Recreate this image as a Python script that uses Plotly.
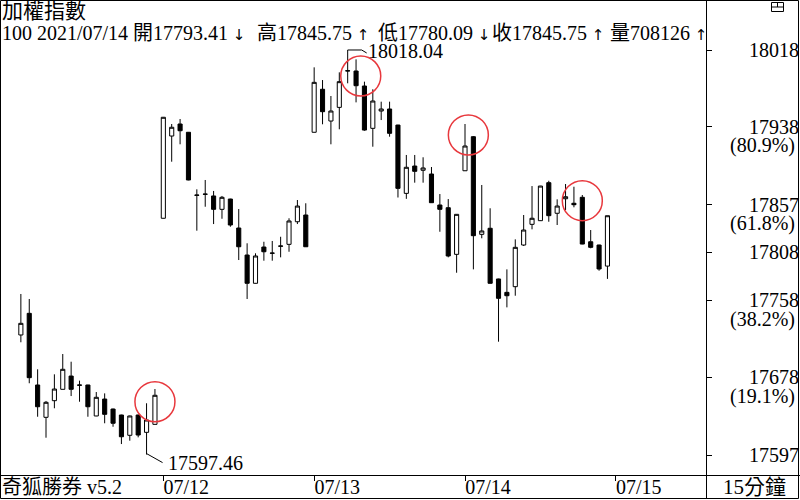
import plotly.graph_objects as go

# ---------------- data (15-min bars) ----------------
days = ["07/09"] * 17 + ["07/12"] * 18 + ["07/13"] * 18 + ["07/14"] * 18
opens = [17721.8, 17744.3, 17669.8, 17636.2, 17653.5, 17665.3, 17679.1, 17669.8, 17669.8,
         17637.6, 17655.2, 17644.8, 17638.6, 17617.5, 17638.6, 17620.6, 17628.9,
         17843.1, 17928.6, 17941.1, 17932.5, 17867.3, 17868.0, 17866.3, 17852.4, 17863.1,
         17833.0, 17804.9, 17775.5, 17813.2, 17806.7, 17814.3, 17816.0, 17839.5, 17846.5,
         17932.5, 17977.2, 17944.2, 17958.4, 17996.5, 17996.2, 17980.6, 17936.6, 17954.6,
         17956.7, 17940.0, 17869.0, 17897.4, 17893.0, 17889.1, 17856.9, 17854.1, 17805.6,
         17892.5, 17927.9, 17826.4, 17832.7, 17780.0, 17766.1, 17772.0, 17815.3, 17836.8,
         17840.6, 17880.1, 17848.3, 17863.4, 17858.7, 17864.9, 17818.7, 17815.3, 17793.41]
highs = [17764.4, 17759.2, 17686.1, 17653.2, 17680.9, 17702.0, 17694.0, 17674.3, 17670.0,
         17662.5, 17661.1, 17645.3, 17638.9, 17638.0, 17638.9, 17650.8, 17665.6,
         17948.4, 17941.1, 17946.3, 17932.8, 17873.2, 17882.9, 17871.5, 17866.3, 17863.4,
         17852.7, 17817.1, 17806.7, 17818.7, 17819.5, 17823.9, 17843.1, 17862.1, 17858.7,
         18000.0, 17986.8, 17970.2, 17994.8, 18018.04, 18008.3, 17985.1, 17977.2, 17964.3,
         17964.3, 17940.3, 17908.9, 17908.9, 17906.5, 17896.4, 17868.3, 17863.1, 17847.5,
         17941.1, 17928.6, 17877.7, 17853.5, 17780.3, 17790.0, 17821.2, 17846.5, 17876.6,
         17876.8, 17882.1, 17862.8, 17878.7, 17875.9, 17867.3, 17830.9, 17815.6, 17845.75]
lows = [17714.2, 17671.6, 17636.8, 17615.0, 17645.6, 17665.3, 17658.3, 17652.4, 17636.8,
        17637.4, 17630.0, 17626.4, 17608.4, 17611.9, 17615.4, 17597.46, 17628.6,
        17842.9, 17901.9, 17920.0, 17882.6, 17830.2, 17855.1, 17837.1, 17842.6, 17834.3,
        17799.7, 17759.2, 17775.3, 17799.0, 17799.0, 17802.5, 17808.3, 17837.1, 17813.3,
        17932.3, 17940.8, 17920.0, 17935.6, 17983.4, 17963.6, 17934.1, 17917.5, 17945.2,
        17927.9, 17864.7, 17863.3, 17880.1, 17880.1, 17859.1, 17829.1, 17802.5, 17786.5,
        17892.3, 17790.0, 17822.3, 17775.3, 17714.8, 17750.5, 17762.6, 17814.3, 17831.6,
        17840.4, 17839.5, 17836.1, 17851.7, 17854.5, 17816.1, 17811.9, 17788.6, 17780.09]
closes = [17733.9, 17677.4, 17647.2, 17651.8, 17665.6, 17686.1, 17665.3, 17669.6, 17647.2,
          17657.0, 17639.3, 17630.0, 17616.0, 17637.6, 17617.8, 17633.4, 17659.1,
          17948.1, 17937.7, 17934.1, 17882.9, 17867.0, 17868.2, 17852.4, 17864.9, 17836.1,
          17813.5, 17775.5, 17803.9, 17808.3, 17806.9, 17814.1, 17840.3, 17855.8, 17813.5,
          17984.4, 17953.9, 17954.6, 17985.1, 17996.3, 17980.9, 17934.8, 17965.0, 17956.7,
          17931.4, 17874.2, 17896.1, 17891.9, 17895.4, 17859.3, 17852.4, 17803.9, 17847.2,
          17918.2, 17825.0, 17829.9, 17775.5, 17759.9, 17762.6, 17812.9, 17830.9, 17843.1,
          17876.6, 17845.8, 17855.8, 17865.5, 17857.2, 17816.3, 17812.9, 17790.4, 17845.75]
volume_last = 708126
last_date = "2021/07/14"
bar_count_label = "100"
arrows = ["↓", "↑", "↓", "↑", "↑"]

day_labels = ["07/12", "07/13", "07/14", "07/15"]
y_ticks = [18018, 17938, 17857, 17808, 17758, 17678, 17597]
y_pct = {17938: "(80.9%)", 17857: "(61.8%)", 17758: "(38.2%)", 17678: "(19.1%)"}

# highlighted bars (bar index, price at circle centre)
circle_idx = [16.0, 40.56, 53.4, 67.0]
circle_price = [17652.4, 17991.0, 17929.7, 17861.4]

# ---------------- layout helpers ----------------
W, H = 800, 500
ML, MR, MT, MB = 0, 94, 0, 25
PW, PH = W - ML - MR, H - MT - MB


def px(X):
    return (X - ML) / PW


def py(Y):
    return (MT + PH - Y) / PH


FONT = "Liberation Serif, Noto Sans CJK TC, serif"
RED = "#e8383d"

x = list(range(len(opens)))
first_idx = {}
for i, d in enumerate(days):
    first_idx.setdefault(d, i)
tickvals = [first_idx[d] for d in day_labels if d in first_idx] + [len(days)]

fig = go.Figure()
fig.add_trace(go.Candlestick(
    x=x, open=opens, high=highs, low=lows, close=closes,
    increasing=dict(line=dict(color="black", width=1), fillcolor="white"),
    decreasing=dict(line=dict(color="black", width=1), fillcolor="black"),
    whiskerwidth=0, hoverinfo="skip", showlegend=False,
))

x0 = first_idx["07/12"]
fig.update_layout(
    width=W, height=H,
    margin=dict(l=ML, r=MR, t=MT, b=MB, pad=0),
    paper_bgcolor="white", plot_bgcolor="white",
    font=dict(family=FONT, size=20, color="black"),
    showlegend=False,
    xaxis=dict(
        type="linear", range=[x0 - 19.49, x0 + 64.76],
        tickvals=tickvals, ticktext=day_labels,
        ticks="outside", ticklen=5, tickcolor="black", tickwidth=1,
        showgrid=False, zeroline=False, showline=False,
        rangeslider=dict(visible=False),
        ticklabelshift=23, ticklabelstandoff=-11, tickfont=dict(size=20),
        automargin=False, fixedrange=True,
    ),
    yaxis=dict(
        side="right", range=[17576.24, 18070.0],
        tickvals=y_ticks, ticktext=[str(v) for v in y_ticks],
        ticks="outside", ticklen=5, tickcolor="black", tickwidth=1,
        ticklabelstandoff=33, tickfont=dict(size=20),
        showgrid=False, zeroline=False, showline=False,
        automargin=False, fixedrange=True,
    ),
)

# frame and strip separators
line_k = dict(color="black", width=1)
fig.add_shape(type="rect", xref="paper", yref="paper",
              x0=px(0.5), x1=px(798.5), y0=py(0.5), y1=py(498.5), line=line_k)
fig.add_shape(type="line", xref="paper", yref="paper",
              x0=px(0), x1=px(800), y0=py(475.5), y1=py(475.5), line=line_k)
fig.add_shape(type="line", xref="paper", yref="paper",
              x0=px(706.5), x1=px(706.5), y0=py(0), y1=py(499), line=line_k)
# small window icon at top right
fig.add_shape(type="rect", xref="paper", yref="paper",
              x0=px(771.5), x1=px(783.5), y0=py(2.5), y1=py(11.5), line=line_k)
fig.add_shape(type="line", xref="paper", yref="paper",
              x0=px(771.5), x1=px(783.5), y0=py(7), y1=py(7), line=line_k)
fig.add_shape(type="line", xref="paper", yref="paper",
              x0=px(777.5), x1=px(777.5), y0=py(2.5), y1=py(7), line=line_k)

# red circles
for cx, cy in zip(circle_idx, circle_price):
    fig.add_shape(type="circle", xref="x", yref="y",
                  xsizemode="pixel", ysizemode="pixel", xanchor=cx, yanchor=cy,
                  x0=-20, x1=20, y0=-20, y1=20,
                  line=dict(color=RED, width=1.5))

# max / min labels with leader lines
hi = max(highs)
lo = min(lows)
i_hi = highs.index(hi)
i_lo = lows.index(lo)
for (ax_, ay_, bx_, by_) in [(0, 0, 14, 0), (14, 0, 19, -3)]:
    fig.add_shape(type="line", xref="x", yref="y", xsizemode="pixel", ysizemode="pixel",
                  xanchor=i_hi, yanchor=hi, x0=ax_, y0=ay_, x1=bx_, y1=by_, line=line_k)
fig.add_shape(type="line", xref="x", yref="y", xsizemode="pixel", ysizemode="pixel",
              xanchor=i_lo, yanchor=lo, x0=0, y0=1, x1=16, y1=-8, line=line_k)
fig.add_annotation(x=i_hi, y=hi, xref="x", yref="y", text=f"{hi:.2f}", showarrow=False,
                   xanchor="left", yanchor="middle", xshift=18, yshift=-1,
                   font=dict(size=20))
fig.add_annotation(x=i_lo, y=lo, xref="x", yref="y", text=f"{lo:.2f}", showarrow=False,
                   xanchor="left", yanchor="middle", xshift=19, yshift=-8,
                   font=dict(size=20))

# percentage labels under the fib ticks
for v, t in y_pct.items():
    fig.add_annotation(x=px(797), y=v, xref="paper", yref="y", text=t, showarrow=False,
                       xanchor="right", yanchor="middle", yshift=-19, font=dict(size=20))


# header texts
def ptext(X, Y, t, size=20, anchor="left"):
    fig.add_annotation(x=px(X), y=py(Y), xref="paper", yref="paper", text=t,
                       showarrow=False, xanchor=anchor, yanchor="middle",
                       font=dict(size=size), borderpad=0)


def arrow_span(a):
    return f"<span style='font-family:DejaVu Sans;font-size:15px'> {a}</span>"


ptext(1, 11, "加權指數", 21)
segs = [
    (1, f"{bar_count_label} {last_date}"),
    (132, f"開{opens[-1]:.2f}" + arrow_span(arrows[0])),
    (256, f"高{highs[-1]:.2f}" + arrow_span(arrows[1])),
    (377, f"低{lows[-1]:.2f}" + arrow_span(arrows[2])),
    (491, f"收{closes[-1]:.2f}" + arrow_span(arrows[3])),
    (609, f"量{volume_last}" + arrow_span(arrows[4])),
]
for X, t in segs:
    ptext(X, 33, t, 20)

ptext(1, 487, "奇狐勝券 v5.2", 20)
ptext(754, 487, "15分鐘", 21, anchor="center")

fig.write_html("out.html")
